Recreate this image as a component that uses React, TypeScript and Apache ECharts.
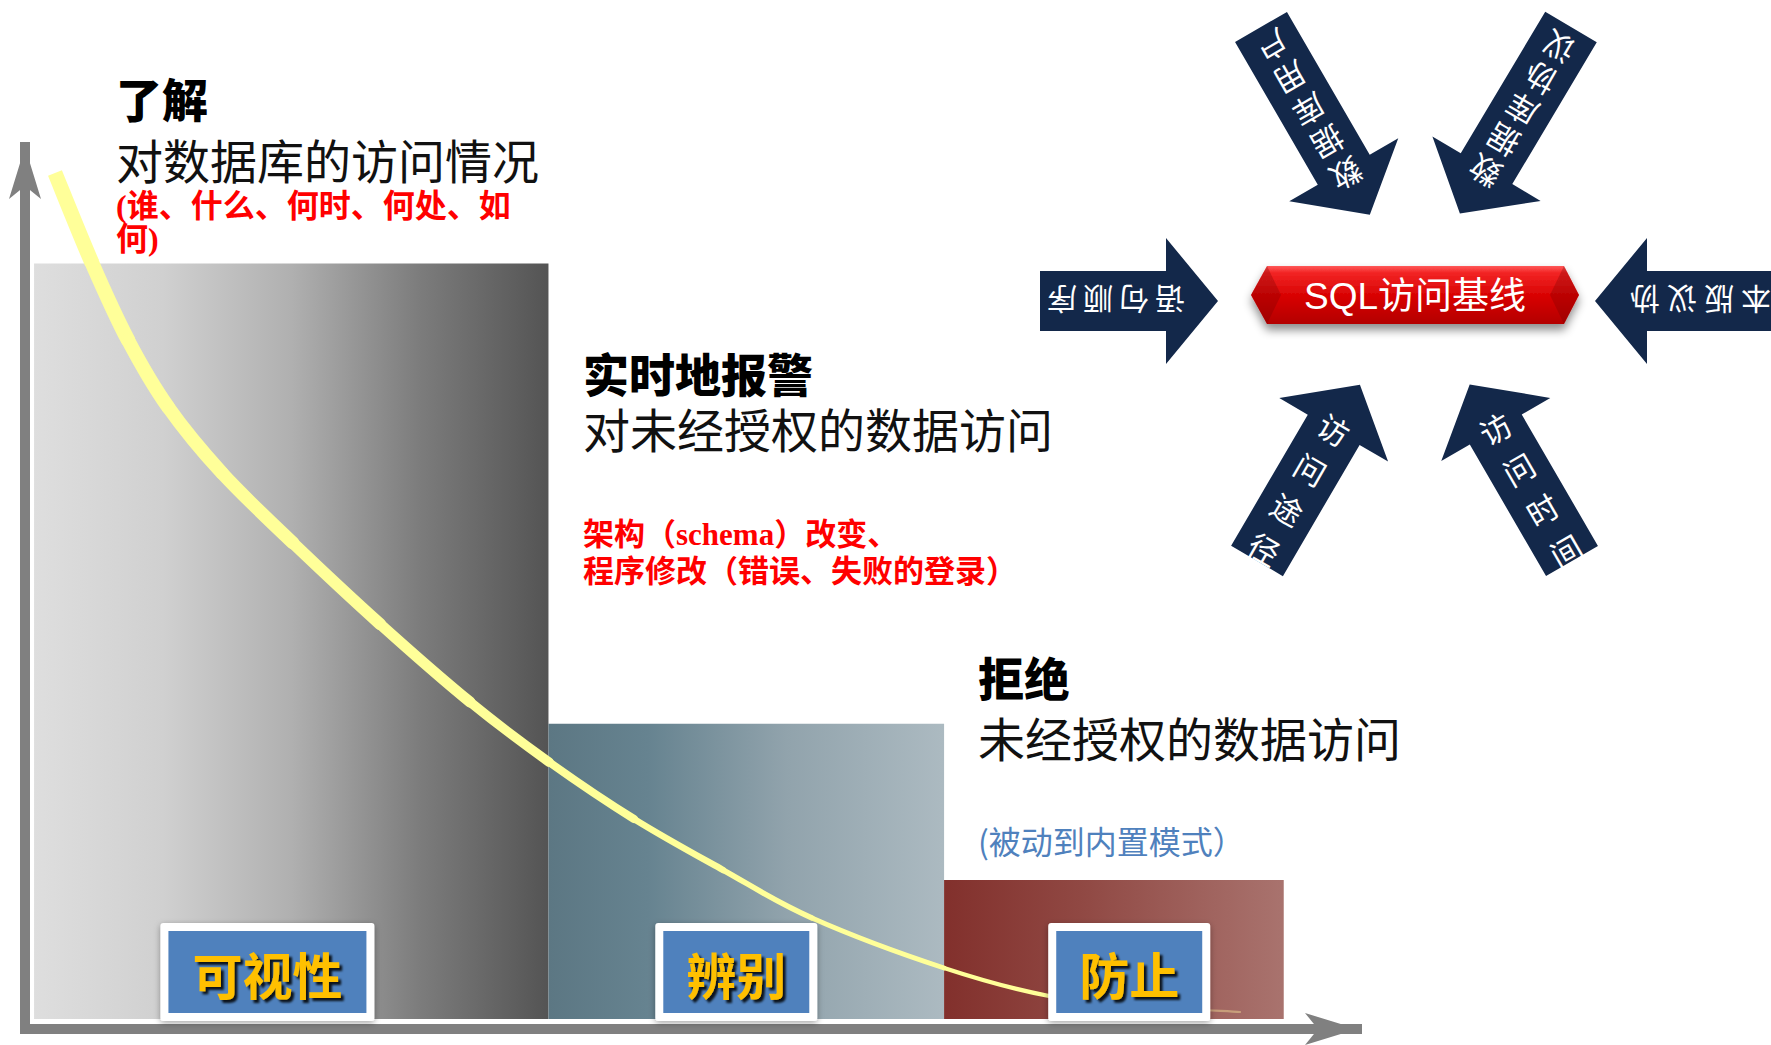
import React, { useEffect, useRef } from 'react';
import * as echarts from 'echarts';

// ---------- data ----------
const stageNames = ['可视性', '辨别', '防止'];
const barStart = [0.68, 39.3, 69.0];
const barEnd = [39.3, 69.0, 94.5];
const barTop = [86.8, 34.6, 16.9];
const barBase = 1.13;
const labelCenter = [18.2, 53.4, 82.9];

const curveX = [2.25, 5.03, 7.73, 10.74, 14.79, 20.12, 26.65, 33.41, 39.34, 45.72, 52.4, 59.08, 69.0, 76.88, 83.71, 91.22];
const curveY = [97.05, 86.85, 78.12, 70.52, 63.04, 55.1, 45.92, 37.07, 30.27, 23.81, 18.03, 12.59, 6.92, 3.74, 2.61, 1.93];

const headings = ['了解', '实时地报警', '拒绝'];
const descriptions = ['对数据库的访问情况', '对未经授权的数据访问', '未经授权的数据访问'];
const notes = [
  '(谁、什么、何时、何处、如\n何)',
  '架构（schema）改变、\n程序修改（错误、失败的登录）',
  '(被动到内置模式）',
];

const baselineTitle = 'SQL访问基线';
const arrowLabels = ['数据库用户', '数据库协议', '语句顺序', '协议版本', '访问途径', '访问时间'];

// ---------- layout / style ----------
const FONT = "'Noto Sans CJK SC', 'Noto Sans', sans-serif";
const NOTE_FONT = "'Liberation Serif', 'Noto Sans CJK SC', serif";
const textBlocks = [
  { x: 116, headY: 97, descY: 158, noteY: 222, noteColor: '#ff0000', noteSize: 32, noteLH: 33, noteFont: NOTE_FONT },
  { x: 583, headY: 372, descY: 427, noteY: 553, noteColor: '#ff0000', noteSize: 31, noteLH: 37, noteFont: NOTE_FONT },
  { x: 978, headY: 676, descY: 736, noteY: 840, noteColor: '#4f81bd', noteSize: 32, noteLH: 36, noteFont: FONT },
];
const arrowLayout = [
  { tx: 1261, ty: 27, ang: 149.9, len: 217, s0: 46, sp: 37, rot: 150, fs: 31 },
  { tx: 1571, ty: 27, ang: 210.8, len: 217, s0: 48, sp: 36, rot: 210, fs: 31 },
  { tx: 1040, ty: 301, ang: 90, len: 178, s0: 48, sp: 36, rot: 180, fs: 30 },
  { tx: 1795, ty: 301, ang: 270, len: 200, s0: 50, sp: 37, rot: 180, fs: 30 },
  { tx: 1257, ty: 561, ang: 30.3, len: 204, s0: 51, sp: 46, rot: 30, fs: 31 },
  { tx: 1572, ty: 561, ang: -30.1, len: 204, s0: 50, sp: 47, rot: -30, fs: 31 },
];
const BODY_W = 60;
const HEAD_W = 126;
const HEAD_L = 52;
const ARROW_COLOR = '#13284a';
const curveWidths = [15, 14.5, 14, 13.5, 13, 12, 11, 9.5, 8, 6.5, 5.5, 4.8, 4.2, 2.5, 2.2];
const curveOpacity = [1, 1, 1, 1, 1, 1, 1, 1, 1, 1, 1, 1, 1, 0.5, 0.4];

const barGradients = [
  [
    { offset: 0, color: '#dedede' },
    { offset: 0.25, color: '#d0d0d0' },
    { offset: 0.5, color: '#b0b0b0' },
    { offset: 0.75, color: '#7c7c7c' },
    { offset: 1, color: '#545454' },
  ],
  [
    { offset: 0, color: '#5c7783' },
    { offset: 0.25, color: '#668390' },
    { offset: 0.6, color: '#91a3ac' },
    { offset: 1, color: '#acbac1' },
  ],
  [
    { offset: 0, color: '#82302c' },
    { offset: 0.4, color: '#904843' },
    { offset: 1, color: '#a9736e' },
  ],
];

function txt(text: string, x: number, y: number, size: number, color: string, weight: any, lineHeight: number, family: string) {
  return {
    type: 'text',
    x,
    y,
    z: 20,
    style: {
      text,
      fill: color,
      fontSize: size,
      fontWeight: weight,
      fontFamily: family,
      lineHeight,
      align: 'left',
      textAlign: 'left',
      verticalAlign: 'middle',
      textVerticalAlign: 'middle',
    },
  };
}

function buildGraphics() {
  const els: any[] = [];
  textBlocks.forEach((b, i) => {
    els.push(txt(headings[i], b.x, b.headY, 46, '#000', 900, 40, FONT));
    els.push(txt(descriptions[i], b.x, b.descY, 47, '#111', 'normal', 44, FONT));
    els.push(txt(notes[i], b.x, b.noteY, b.noteSize, b.noteColor, i === 2 ? 'normal' : 'bold', b.noteLH, b.noteFont));
  });

  arrowLayout.forEach((a, k) => {
    const r = (a.ang * Math.PI) / 180;
    const d = [Math.sin(r), -Math.cos(r)];
    const n = [Math.cos(r), Math.sin(r)];
    const P = (along: number, side: number) => [a.tx + d[0] * along + n[0] * side, a.ty + d[1] * along + n[1] * side];
    const neck = a.len - HEAD_L;
    const pts = [
      P(0, -BODY_W / 2),
      P(neck, -BODY_W / 2),
      P(neck, -HEAD_W / 2),
      P(a.len, 0),
      P(neck, HEAD_W / 2),
      P(neck, BODY_W / 2),
      P(0, BODY_W / 2),
    ];
    els.push({ type: 'polygon', z: 10, shape: { points: pts }, style: { fill: ARROW_COLOR } });
    arrowLabels[k].split('').forEach((ch, i) => {
      const p = P(a.len - a.s0 - i * a.sp, 0);
      els.push({
        type: 'text',
        x: p[0],
        y: p[1],
        z: 11,
        rotation: (-a.rot * Math.PI) / 180,
        style: {
          text: ch,
          fill: '#ffffff',
          fontSize: a.fs,
          fontFamily: FONT,
          fontWeight: 'normal',
          align: 'center',
          textAlign: 'center',
          verticalAlign: 'middle',
          textVerticalAlign: 'middle',
        },
      });
    });
  });

  const hx = [1251, 1267, 1564, 1579];
  const hy = [266, 295, 324];
  els.push({
    type: 'polygon',
    z: 12,
    shape: {
      points: [
        [hx[0], hy[1]],
        [hx[1], hy[0]],
        [hx[2], hy[0]],
        [hx[3], hy[1]],
        [hx[2], hy[2]],
        [hx[1], hy[2]],
      ],
    },
    style: {
      fill: new echarts.graphic.LinearGradient(0, 0, 0, 1, [
        { offset: 0, color: '#ff5959' },
        { offset: 0.12, color: '#f22424' },
        { offset: 0.55, color: '#d60000' },
        { offset: 1, color: '#b30000' },
      ]),
      shadowBlur: 10,
      shadowOffsetY: 6,
      shadowColor: 'rgba(0,0,0,0.45)',
    },
  });
  els.push({
    type: 'polygon',
    z: 13,
    shape: { points: [[hx[0], hy[1]], [hx[1], hy[0]], [hx[1] + 14, hy[1]], [hx[1], hy[2]]] },
    style: { fill: 'rgba(110,0,0,0.28)' },
  });
  els.push({
    type: 'polygon',
    z: 13,
    shape: { points: [[hx[3], hy[1]], [hx[2], hy[0]], [hx[2] - 14, hy[1]], [hx[2], hy[2]]] },
    style: { fill: 'rgba(110,0,0,0.28)' },
  });
  els.push({
    type: 'text',
    x: 1415,
    y: 296,
    z: 14,
    style: {
      text: baselineTitle,
      fill: '#ffffff',
      fontSize: 37,
      fontFamily: "'Liberation Sans', 'Noto Sans CJK SC', sans-serif",
      align: 'center',
      textAlign: 'center',
      verticalAlign: 'middle',
      textVerticalAlign: 'middle',
    },
  });
  return els;
}

function buildOption() {
  const barData = barStart.map((s, i) => [s, barEnd[i], barTop[i]]);
  const curveData = curveX.map((x, i) => [x, curveY[i]]);
  const last = curveData.length - 1;

  const axisCommon = {
    type: 'value',
    min: 0,
    max: 100,
    axisTick: { show: false },
    axisLabel: { show: false },
    splitLine: { show: false },
    axisLine: {
      show: true,
      onZero: false,
      symbol: ['none', 'arrow'],
      symbolSize: [24, 52],
      lineStyle: { color: '#808080', width: 10, cap: 'square' },
    },
  };

  return {
    animation: false,
    backgroundColor: '#ffffff',
    grid: { left: 25, top: 147, width: 1332, height: 882, containLabel: false },
    xAxis: { ...axisCommon },
    yAxis: { ...axisCommon },
    series: [
      {
        type: 'custom',
        z: 1,
        silent: true,
        encode: { x: [0, 1], y: 2 },
        data: barData,
        renderItem: (params: any, api: any) => {
          const p0 = api.coord([api.value(0), api.value(2)]);
          const p1 = api.coord([api.value(1), barBase]);
          return {
            type: 'rect',
            shape: { x: p0[0], y: p0[1], width: p1[0] - p0[0], height: p1[1] - p0[1] },
            style: { fill: new echarts.graphic.LinearGradient(0, 0, 1, 0, barGradients[params.dataIndex]) },
          };
        },
      },
      {
        // smooth tapered curve: one Catmull-Rom bezier piece per data point
        type: 'custom',
        z: 4,
        silent: true,
        encode: { x: 0, y: 1 },
        data: curveData,
        renderItem: (params: any, api: any) => {
          const i = params.dataIndex;
          if (i >= last) return null;
          const c = (k: number) => {
            const j = Math.max(0, Math.min(last, k));
            return api.coord(curveData[j]);
          };
          const p0 = c(i - 1);
          const p1 = c(i);
          const p2 = c(i + 1);
          const p3 = c(i + 2);
          return {
            type: 'bezierCurve',
            shape: {
              x1: p1[0],
              y1: p1[1],
              x2: p2[0],
              y2: p2[1],
              cpx1: p1[0] + (p2[0] - p0[0]) / 6,
              cpy1: p1[1] + (p2[1] - p0[1]) / 6,
              cpx2: p2[0] - (p3[0] - p1[0]) / 6,
              cpy2: p2[1] - (p3[1] - p1[1]) / 6,
            },
            style: {
              fill: null,
              stroke: i >= 13 ? '#fff0a0' : '#ffff99',
              lineWidth: curveWidths[i],
              opacity: curveOpacity[i],
              lineCap: i === 0 ? 'butt' : 'round',
            },
          };
        },
      },
      {
        type: 'custom',
        z: 8,
        silent: true,
        encode: { x: 0, y: 1 },
        data: labelCenter.map((c) => [c, 0]),
        renderItem: (params: any, api: any) => {
          const i = params.dataIndex;
          const cx = api.coord([api.value(0), 0])[0];
          const w = stageNames[i].length * 52 + 58;
          return {
            type: 'group',
            children: [
              {
                type: 'rect',
                shape: { x: cx - w / 2, y: 923, width: w, height: 98, r: 3 },
                style: { fill: '#ffffff', shadowBlur: 6, shadowOffsetY: 2, shadowColor: 'rgba(0,0,0,0.35)' },
              },
              {
                type: 'rect',
                shape: { x: cx - w / 2 + 8, y: 931, width: w - 16, height: 82 },
                style: { fill: '#4f81bd' },
              },
              {
                type: 'text',
                x: cx,
                y: 973,
                style: {
                  text: stageNames[i],
                  fill: '#ffc000',
                  fontSize: 50,
                  fontWeight: 'bold',
                  fontFamily: FONT,
                  align: 'center',
                  textAlign: 'center',
                  verticalAlign: 'middle',
                  textVerticalAlign: 'middle',
                  textShadowColor: 'rgba(0,0,0,0.85)',
                  textShadowBlur: 2,
                  textShadowOffsetX: 3,
                  textShadowOffsetY: 3,
                },
              },
            ],
          };
        },
      },
    ],
    graphic: { elements: buildGraphics() },
  };
}

export default function App() {
  const ref = useRef<HTMLDivElement>(null);
  useEffect(() => {
    if (!ref.current) return;
    const chart = echarts.init(ref.current, null, { renderer: 'svg', width: 1771, height: 1045 });
    chart.setOption(buildOption() as any);
    return () => chart.dispose();
  }, []);
  return (
    <div
      ref={ref}
      style={{ position: 'absolute', left: 0, top: 0, width: 1771, height: 1045, background: '#fff' }}
    />
  );
}
